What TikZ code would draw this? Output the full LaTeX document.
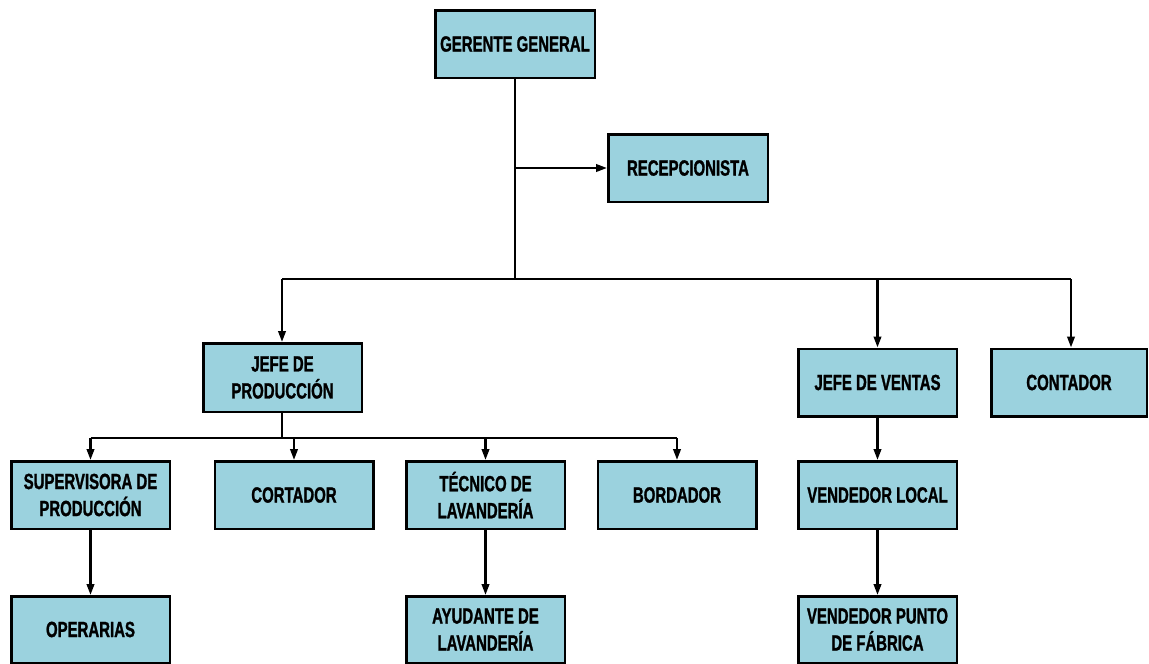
\documentclass[tikz,border=0pt]{standalone}
\usepackage{fontspec}
\setmainfont{Liberation Sans}[FakeStretch=0.68, BoldFeatures={FakeBold=1.2}]
\usetikzlibrary{arrows.meta}
\definecolor{boxfill}{RGB}{155,210,222}
\tikzset{
  unit/.style={draw=black, line width=2.5pt, fill=boxfill, rectangle,
    minimum width=158.5pt, minimum height=67.5pt, inner sep=0pt, align=center,
    font=\fontsize{22}{27}\selectfont\bfseries},
  link/.style={line width=2.3pt, draw=black},
  arr/.style={link, -{Triangle[length=11pt,width=7.5pt]}}
}
\begin{document}
\begin{tikzpicture}[x=1pt, y=-1pt]
\useasboundingbox (0,0) rectangle (1149,664);

% top level
\node[unit, minimum width=159.5pt] (gg)   at (515,44)    {GERENTE GENERAL};
\node[unit, minimum width=159.5pt] (rec)  at (688,168)   {RECEPCIONISTA};

% department heads
\node[unit, minimum height=68.5pt] (jp) at (282.5,377.5) {JEFE DE\\PRODUCCIÓN};
\node[unit] (jv)   at (877.5,382.5) {JEFE DE VENTAS};
\node[unit, minimum width=155.5pt] (cont) at (1069,382.5) {CONTADOR};

% production staff
\node[unit] (sup)  at (90.5,495)  {SUPERVISORA DE\\PRODUCCIÓN};
\node[unit] (cor)  at (294,495)   {CORTADOR};
\node[unit] (tec)  at (485.5,495) {TÉCNICO DE\\LAVANDERÍA};
\node[unit] (bor)  at (677,495)   {BORDADOR};
\node[unit] (vl)   at (877.5,495) {VENDEDOR LOCAL};

% third level
\node[unit, minimum height=66.5pt] (ope) at (90.5,629.5)  {OPERARIAS};
\node[unit, minimum height=66.5pt] (ayu) at (485.5,629.5) {AYUDANTE DE\\LAVANDERÍA};
\node[unit, minimum height=66.5pt] (vp)  at (877.5,629.5) {VENDEDOR PUNTO\\DE FÁBRICA};

% main distribution bus
\coordinate (b0) at (515,279);
\coordinate (bL) at (282,279);
\coordinate (bR) at (1071,279);
\draw[link] (gg.south) -- (b0);
\draw[arr] (gg.south |- rec.west) -- (rec.west);
\draw[link] (bL) -- (bR);
\draw[arr] (bL) -- (bL |- jp.north);
\draw[arr] (jv.north |- bL) -- (jv.north);
\draw[arr] (bR) -- (bR |- cont.north);

% production bus
\coordinate (p0) at (282,438);
\draw[link] (jp.south -| p0) -- (p0);
\draw[link] (sup.north |- p0) -- (bor.north |- p0);
\draw[arr] (sup.north |- p0) -- (sup.north);
\draw[arr] (cor.north |- p0) -- (cor.north);
\draw[arr] (tec.north |- p0) -- (tec.north);
\draw[arr] (bor.north |- p0) -- (bor.north);

% vertical chains
\draw[arr] (sup.south) -- (ope.north);
\draw[arr] (tec.south) -- (ayu.north);
\draw[arr] (jv.south) -- (vl.north);
\draw[arr] (vl.south) -- (vp.north);
\end{tikzpicture}
\end{document}
